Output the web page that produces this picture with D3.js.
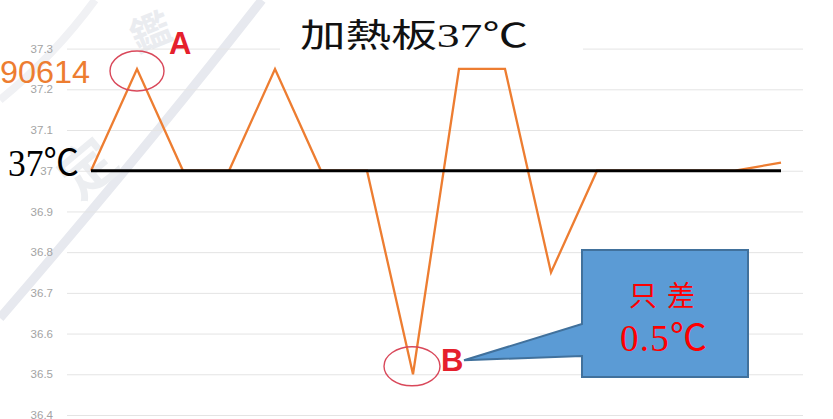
<!DOCTYPE html>
<html>
<head>
<meta charset="utf-8">
<script src="https://cdn.jsdelivr.net/npm/d3@7"></script>
<style>
  html, body { margin: 0; padding: 0; background: #fff; }
  svg { display: block; }
</style>
</head>
<body>
<svg id="chart" width="833" height="419"></svg>
<script>
// Readings of the heating plate, one per sample
const samples = ["1","2","3","4","5","6","7","8","9","10","11","12","13","14","15","16"];
const temps = [37, 37.25, 37, 37, 37.25, 37, 37, 36.5, 37.25, 37.25, 36.75, 37, 37, 37, 37, 37.02];
const targetTemp = 37;
const yTickValues = [36.4, 36.5, 36.6, 36.7, 36.8, 36.9, 37, 37.1, 37.2, 37.3];
const yTickLabels = ["36.4", "36.5", "36.6", "36.7", "36.8", "36.9", "37", "37.1", "37.2", "37.3"];
const titleText = "加熱板37℃";
const dateText = "90614";
const targetText = "37℃";
const noteLines = ["只差", "0.5℃"];

const svg = d3.select("#chart");

const x = d3.scalePoint().domain(samples).range([91, 781]);
const y = d3.scaleLinear().domain([36.4, 37.3]).range([415, 48.6]);

// faint background stamp
const wm = svg.append("g").attr("class", "stamp");
wm.append("path").attr("d", "M262,0 Q145,150 0,318")
  .attr("fill", "none").attr("stroke", "#e7e9ef").attr("stroke-width", 9);
wm.append("path").attr("d", "M95,0 Q55,55 0,100")
  .attr("fill", "none").attr("stroke", "#f0f1f4").attr("stroke-width", 8);
wm.append("text").text("鑑")
  .attr("transform", "translate(150,30) rotate(-22)")
  .attr("text-anchor", "middle").attr("dominant-baseline", "central")
  .attr("font-family", "Noto Sans CJK TC").attr("font-weight", 700)
  .attr("font-size", 40).attr("fill", "#eaecf0");
wm.append("text").text("定")
  .attr("transform", "translate(85,165) rotate(-40)")
  .attr("text-anchor", "middle").attr("dominant-baseline", "central")
  .attr("font-family", "Noto Sans CJK TC").attr("font-weight", 700)
  .attr("font-size", 56).attr("fill", "#eceef1");

// gridlines and tick labels
const yAxis = d3.axisLeft(y)
  .tickValues(yTickValues)
  .tickFormat((d, i) => yTickLabels[i])
  .tickSize(-(803 - 67))
  .tickPadding(14);

const gy = svg.append("g").attr("transform", "translate(67,0)").call(yAxis);
gy.select(".domain").remove();
gy.selectAll(".tick line").attr("stroke", "#e4e4e4").attr("stroke-width", 1);
gy.selectAll(".tick text")
  .attr("fill", "#a3a3a3")
  .attr("font-family", "Liberation Sans, Arial, sans-serif")
  .attr("font-size", 11.5);

// title panel
svg.append("rect").attr("x", 280).attr("y", 0).attr("width", 303).attr("height", 58).attr("fill", "#fff");
svg.append("text").text(titleText)
  .attr("x", 300).attr("y", 47)
  .attr("textLength", 228).attr("lengthAdjust", "spacingAndGlyphs")
  .attr("font-family", "Liberation Serif, 'Noto Sans CJK TC', serif")
  .attr("font-size", 33).attr("fill", "#111");

// temperature series
const line = d3.line().x((d, i) => x(samples[i])).y(d => y(d));
svg.append("path").datum(temps)
  .attr("d", line)
  .attr("fill", "none")
  .attr("stroke", "#ED7D31")
  .attr("stroke-width", 2.3)
  .attr("stroke-linejoin", "miter");

// target reference line
svg.append("line")
  .attr("x1", x(samples[0])).attr("x2", x(samples[samples.length - 1]))
  .attr("y1", y(targetTemp)).attr("y2", y(targetTemp))
  .attr("stroke", "#000").attr("stroke-width", 3);

// side labels
svg.append("text").text(dateText)
  .attr("x", 0).attr("y", 83)
  .attr("textLength", 90).attr("lengthAdjust", "spacingAndGlyphs")
  .attr("font-family", "Liberation Sans, Arial, sans-serif")
  .attr("font-size", 32).attr("fill", "#ED7D31");
svg.append("text").text(targetText)
  .attr("x", 8).attr("y", 176)
  .attr("textLength", 71).attr("lengthAdjust", "spacingAndGlyphs")
  .attr("font-family", "Liberation Serif, 'Noto Sans CJK TC', serif")
  .attr("font-size", 37).attr("fill", "#000");

// markers A (highest) and B (lowest)
const iA = 1, iB = 7;
const ax = x(samples[iA]), ay = y(temps[iA]);
const bx = x(samples[iB]), by = y(temps[iB]);

svg.append("ellipse").attr("cx", ax).attr("cy", ay + 2).attr("rx", 27).attr("ry", 20)
  .attr("fill", "none").attr("stroke", "#d9485a").attr("stroke-width", 1.4);
svg.append("ellipse").attr("cx", bx - 1).attr("cy", by - 8).attr("rx", 28).attr("ry", 19.5)
  .attr("fill", "none").attr("stroke", "#d9485a").attr("stroke-width", 1.4);

svg.append("text").text("A")
  .attr("x", ax + 32).attr("y", ay - 15)
  .attr("font-family", "Liberation Sans, Arial, sans-serif").attr("font-weight", 700)
  .attr("font-size", 31).attr("fill", "#e5202c");
svg.append("text").text("B")
  .attr("x", bx + 28).attr("y", by - 3)
  .attr("font-family", "Liberation Sans, Arial, sans-serif").attr("font-weight", 700)
  .attr("font-size", 31).attr("fill", "#e5202c");

// callout pointing at B
const box = { x0: 582, x1: 748, y0: 250, y1: 377 };
const tip = [bx + 51, by - 14];
const callout = d3.path();
callout.moveTo(box.x0, box.y0);
callout.lineTo(box.x1, box.y0);
callout.lineTo(box.x1, box.y1);
callout.lineTo(box.x0, box.y1);
callout.lineTo(box.x0, 356);
callout.lineTo(tip[0], tip[1]);
callout.lineTo(box.x0, 324);
callout.closePath();
svg.append("path").attr("d", callout.toString())
  .attr("fill", "#5B9BD5").attr("stroke", "#41719C").attr("stroke-width", 2)
  .attr("stroke-linejoin", "miter");

const cx = (box.x0 + box.x1) / 2;
svg.append("text").text(noteLines[0])
  .attr("x", cx + 2).attr("y", 306)
  .attr("text-anchor", "middle")
  .attr("letter-spacing", 10)
  .attr("font-family", "'Noto Sans CJK TC', serif")
  .attr("font-size", 28).attr("fill", "#ff0000");
svg.append("text").text(noteLines[1])
  .attr("x", 620).attr("y", 351)
  .attr("textLength", 87).attr("lengthAdjust", "spacing")
  .attr("font-family", "Liberation Serif, 'Noto Sans CJK TC', serif")
  .attr("font-size", 37).attr("fill", "#ff0000");
</script>
</body>
</html>
